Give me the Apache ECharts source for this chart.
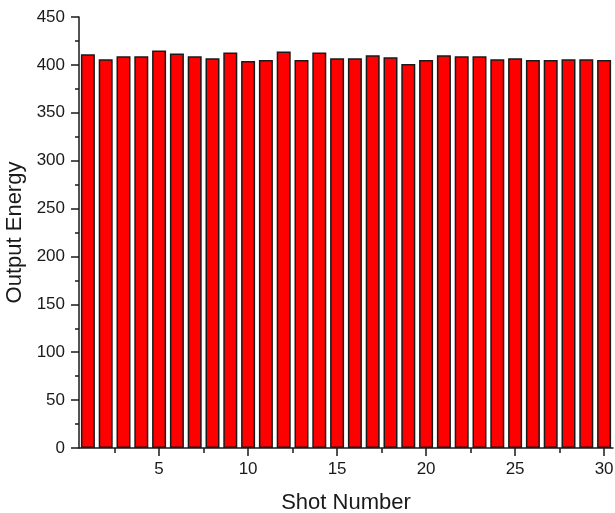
<!DOCTYPE html>
<html>
<head>
<meta charset="utf-8">
<style>
  html, body { margin: 0; padding: 0; background: #fff; }
  #chart { width: 615px; height: 513px; }
</style>
<script src="https://cdn.jsdelivr.net/npm/echarts@6/dist/echarts.min.js"></script>
</head>
<body>
<div id="chart"></div>
<script>
// Shot index and the measured output energy for each shot
const shots = [1,2,3,4,5,6,7,8,9,10,11,12,13,14,15,16,17,18,19,20,21,22,23,24,25,26,27,28,29,30];
const energy = [411,406,409,409,415,412,409,407,413,404,405,414,405,413,407,407,410,408,401,405,410,409,409,406,407,405,405,406,406,405];
const xTickLabels = [5,10,15,20,25,30];
const xMinorTicks = [2.5,7.5,12.5,17.5,22.5,27.5];

const chart = echarts.init(document.getElementById('chart'));
const font = 'Liberation Sans, Arial, sans-serif';
const ink = '#1a1a1a';

chart.setOption({
  animation: false,
  grid: { left: 79, right: 2, top: 17, bottom: 65, containLabel: false, outerBoundsMode: 'none' },
  xAxis: [{
    type: 'value',
    min: 0.5,
    max: 30.5,
    name: 'Shot Number',
    nameLocation: 'middle',
    nameGap: 44,
    nameTextStyle: { fontFamily: font, fontSize: 22, color: ink },
    axisLine: { show: true, onZero: false, lineStyle: { color: ink, width: 1.5 } },
    axisTick: { show: true, customValues: xTickLabels, length: 8, lineStyle: { color: ink, width: 1.5 } },
    axisLabel: { customValues: xTickLabels, margin: 13, fontFamily: font, fontSize: 17, color: ink },
    splitLine: { show: false }
  }, {
    // minor ticks halfway between the labelled shots
    type: 'value',
    position: 'bottom',
    min: 0.5,
    max: 30.5,
    axisLine: { show: false },
    axisTick: { show: true, customValues: xMinorTicks, length: 5, lineStyle: { color: ink, width: 1.5 } },
    axisLabel: { show: false },
    splitLine: { show: false }
  }],
  yAxis: {
    type: 'value',
    min: 0,
    max: 450,
    interval: 50,
    name: 'Output Energy',
    nameLocation: 'middle',
    nameGap: 48,
    nameTextStyle: { fontFamily: font, fontSize: 22, color: ink },
    axisLine: { show: true, lineStyle: { color: ink, width: 1.5 } },
    axisTick: { show: true, length: 8, lineStyle: { color: ink, width: 1.5 } },
    minorTick: { show: true, splitNumber: 2, length: 4, lineStyle: { color: ink, width: 1.5 } },
    axisLabel: { margin: 14, fontFamily: font, fontSize: 17, color: ink },
    splitLine: { show: false }
  },
  series: [{
    type: 'bar',
    xAxisIndex: 0,
    data: shots.map((s, i) => [s, energy[i]]),
    barWidth: 14,
    itemStyle: { color: '#ff0000', borderColor: ink, borderWidth: 1.5 }
  }]
});
</script>
</body>
</html>
